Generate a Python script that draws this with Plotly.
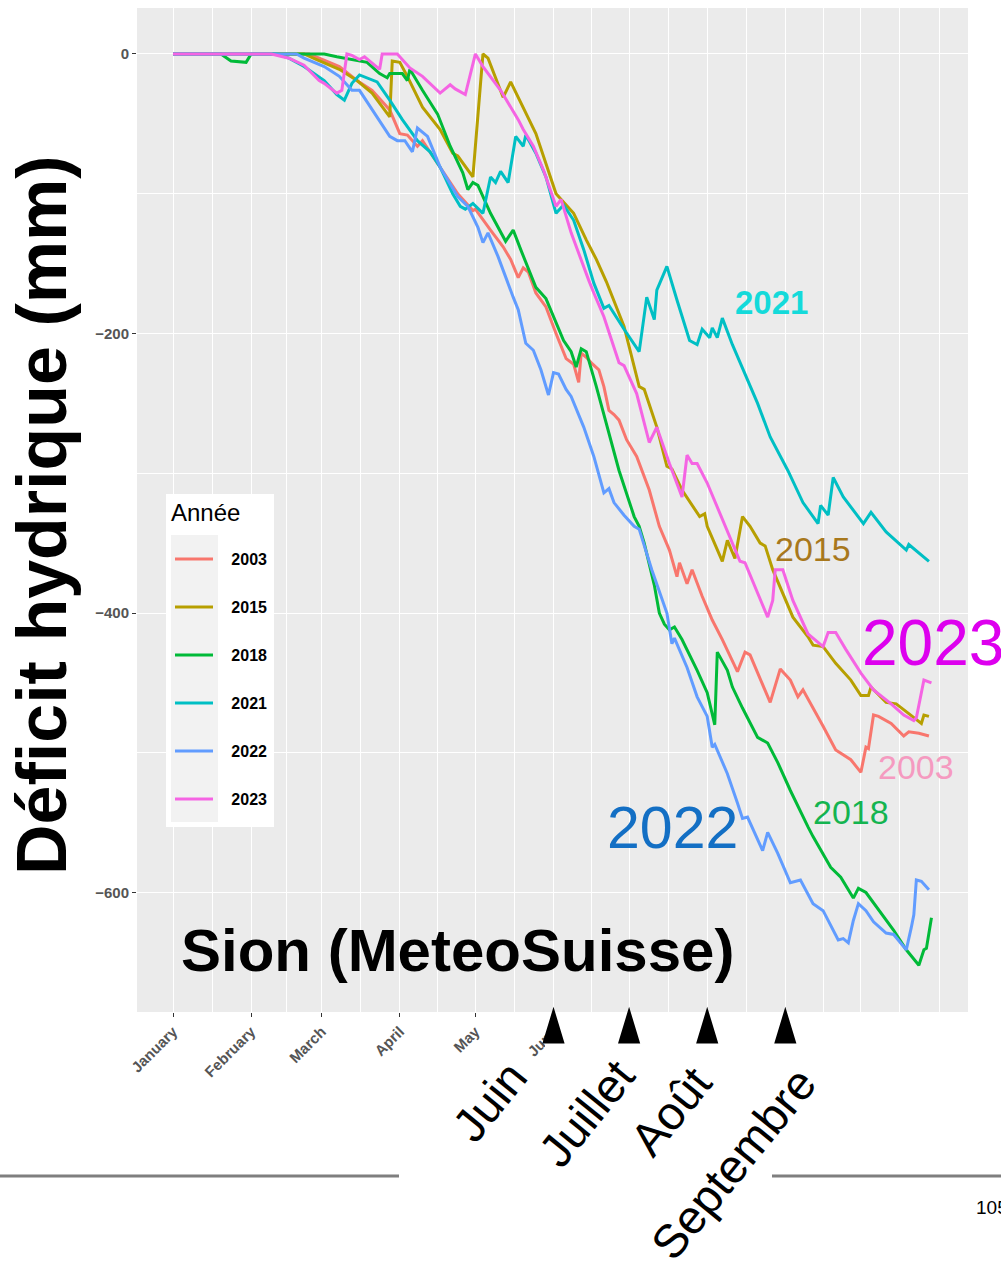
import plotly.graph_objects as go

# ---------------- data ----------------
years = ["2003", "2015", "2018", "2021", "2022", "2023"]
line_colors = ["#F8766D", "#B79F00", "#00BA38", "#00BFC4", "#619CFF", "#F564E3"]

# day of year / water deficit (mm)
day_2003 = [1, 55, 59, 67, 74, 80, 87, 91, 94, 98, 100, 107, 114, 120, 121, 127, 132, 135, 138, 140,
            142, 145, 149, 153, 157, 160, 162, 163, 165, 167, 170, 172, 174, 176, 178, 181, 185, 190, 194, 198,
            201, 202, 205, 207, 211, 215, 219, 225, 228, 230, 238, 242, 246, 249, 251, 259, 264, 270, 274, 276,
            277, 279, 281, 286, 291, 293, 297, 301]
def_2003 = [0, 0, -3, -9, -19, -26, -40, -57, -58, -66, -62, -81, -100, -112, -111, -126, -138, -147, -160, -153,
            -156, -171, -181, -200, -218, -222, -235, -214, -217, -221, -226, -238, -255, -258, -262, -276, -288, -312, -338, -355,
            -374, -364, -379, -369, -388, -405, -419, -442, -428, -430, -464, -440, -448, -460, -455, -481, -498, -505, -514, -496,
            -497, -473, -474, -479, -488, -485, -486, -488]

day_2015 = [1, 53, 58, 67, 74, 80, 87, 88, 91, 94, 100, 107, 112, 114, 120, 124, 126, 132, 135, 139,
            145, 153, 160, 165, 169, 173, 180, 186, 188, 193, 197, 199, 203, 210, 212, 213, 219, 221, 224, 227,
            230, 234, 236, 239, 243, 247, 253, 255, 259, 264, 270, 274, 277, 278, 284, 288, 293, 298, 299, 301]
def_2015 = [0, 0, -4, -11, -19, -28, -45, -5, -6, -16, -38, -54, -71, -73, -88, 0, -3, -31, -20, -35,
            -57, -100, -114, -133, -147, -163, -195, -238, -240, -267, -295, -297, -312, -331, -329, -338, -363, -348, -361, -331,
            -338, -350, -352, -369, -386, -403, -417, -423, -424, -436, -448, -459, -459, -453, -464, -465, -472, -479, -473, -474]

day_2018 = [1, 20, 24, 30, 32, 61, 66, 74, 78, 83, 86, 87, 92, 94, 95, 100, 106, 111, 116, 118,
            120, 122, 127, 133, 136, 139, 145, 149, 156, 159, 161, 163, 165, 169, 174, 178, 184, 186, 188, 192,
            194, 196, 198, 200, 203, 209, 213, 216, 217, 221, 223, 227, 233, 237, 241, 246, 253, 255, 262, 266,
            271, 273, 276, 282, 287, 292, 297, 299, 300, 302]
def_2018 = [0, 0, -5, -6, 0, 0, -2, -5, -6, -14, -17, -14, -14, -19, -11, -26, -43, -66, -85, -97,
            -92, -94, -114, -134, -126, -140, -167, -175, -205, -213, -224, -211, -213, -238, -271, -298, -331, -338, -350, -380,
            -400, -408, -412, -410, -419, -441, -457, -480, -428, -441, -453, -468, -489, -493, -507, -527, -553, -560, -582, -589,
            -604, -597, -600, -615, -627, -641, -652, -641, -640, -618]

day_2021 = [1, 42, 47, 53, 61, 66, 69, 72, 75, 82, 87, 92, 98, 103, 107, 112, 115, 117, 120, 124,
            127, 129, 131, 134, 137, 140, 141, 145, 149, 153, 156, 160, 164, 168, 172, 174, 180, 186, 189, 192,
            193, 197, 201, 206, 209, 211, 214, 215, 217, 219, 223, 226, 233, 238, 245, 251, 257, 258, 261, 263,
            267, 275, 278, 284, 292, 293, 301]
def_2021 = [0, 0, -3, -9, -19, -29, -33, -21, -15, -20, -33, -47, -62, -70, -81, -100, -109, -111, -107, -114,
            -88, -92, -84, -92, -59, -66, -58, -71, -88, -114, -108, -119, -140, -164, -182, -180, -197, -213, -174, -190,
            -169, -152, -176, -205, -208, -197, -203, -196, -203, -189, -208, -221, -250, -274, -298, -321, -336, -323, -330, -303,
            -317, -336, -328, -342, -355, -351, -363]

day_2022 = [1, 50, 53, 61, 67, 72, 75, 80, 87, 90, 93, 96, 98, 102, 107, 114, 118, 122, 124, 126,
            130, 136, 138, 141, 144, 147, 150, 152, 154, 157, 159, 164, 168, 172, 174, 176, 180, 184, 186, 191,
            197, 199, 200, 205, 209, 213, 215, 216, 221, 225, 227, 229, 235, 237, 241, 246, 250, 255, 259, 265,
            267, 269, 271, 273, 276, 279, 284, 287, 292, 294, 295, 296, 298, 301]
def_2022 = [0, 0, -3, -9, -16, -26, -26, -40, -59, -62, -62, -70, -53, -59, -81, -102, -109, -124, -135, -128,
            -145, -174, -183, -207, -212, -226, -244, -228, -229, -240, -245, -267, -288, -314, -311, -321, -330, -338, -340, -369,
            -400, -422, -418, -439, -460, -474, -496, -494, -515, -536, -547, -546, -570, -557, -572, -593, -591, -608, -613, -634,
            -633, -636, -620, -608, -613, -621, -629, -630, -641, -625, -616, -591, -592, -598]

day_2023 = [1, 40, 47, 53, 59, 61, 66, 68, 70, 72, 75, 77, 83, 84, 90, 95, 100, 107, 111, 113,
            117, 118, 121, 124, 131, 138, 140, 144, 148, 153, 155, 159, 161, 166, 168, 172, 178, 180, 185, 190,
            193, 198, 203, 205, 207, 209, 213, 217, 221, 226, 228, 237, 239, 240, 243, 247, 253, 259, 261, 264,
            268, 274, 279, 286, 291, 295, 296, 299, 302]
def_2023 = [0, 0, -3, -8, -19, -21, -28, -26, 0, -1, -4, -2, -11, 0, 0, -10, -16, -28, -22, -25,
            -29, -22, 0, -9, -26, -47, -54, -66, -83, -109, -104, -128, -138, -162, -171, -188, -221, -223, -243, -278,
            -267, -293, -317, -287, -293, -293, -307, -324, -341, -363, -364, -403, -391, -369, -369, -391, -415, -424, -414, -414,
            -426, -443, -455, -465, -473, -477, -475, -448, -450]

series_days = [day_2003, day_2015, day_2018, day_2021, day_2022, day_2023]
series_vals = [def_2003, def_2015, def_2018, def_2021, def_2022, def_2023]

# axis ticks
month_start_days = [1, 32, 60, 91, 121, 152, 182, 213, 244, 274, 305]
month_tick_labels = ["January", "February", "March", "April", "May", "June", "", "", "", "", ""]
mid_month_days = [16.5, 46, 75.5, 106, 136.5, 167, 197.5, 228.5, 259, 289.5]
y_tick_vals = [0, -200, -400, -600]
y_tick_labels = ["0", "\u2212200", "\u2212400", "\u2212600"]
y_minor_vals = [-100, -300, -500]

# French month markers added under the axis
arrow_days = [152, 182, 213, 244]
arrow_labels = ["Juin", "Juillet", "Août", "Septembre"]

# year labels written in the panel
year_label_text = ["2021", "2015", "2023", "2003", "2018", "2022"]
year_label_colors = ["#14DADA", "#A8781C", "#DD00EE", "#F59AC0", "#14B450", "#136FC4"]

# ---------------- layout geometry (page pixels) ----------------
OFF = 0                      # body margin removed by the post script below
W, H = 1001, 1270
PL, PR, PT, PB = 137, 968, 8, 1012   # plot panel in page pixels
FONT = "Liberation Sans, Arial, sans-serif"


def fx(px):
    return (px - PL) / (PR - PL)


def fy(py):
    return (PB - py) / (PB - PT)


fig = go.Figure()
for name, col, dd, vv in zip(years, line_colors, series_days, series_vals):
    fig.add_trace(go.Scatter(
        x=dd, y=vv, mode="lines", name="\u00a0\u00a0\u00a0" + name, legendgroup=name,
        line=dict(color=col, width=3), hovertemplate=name + ": %{y} mm<extra></extra>"))

shapes = []
# legend background (white box + grey key column)
shapes.append(dict(type="rect", xref="paper", yref="paper", x0=fx(166), x1=fx(274), y0=fy(494), y1=fy(827),
                   fillcolor="white", line=dict(width=0), layer="above"))
shapes.append(dict(type="rect", xref="paper", yref="paper", x0=fx(171), x1=fx(218), y0=fy(535), y1=fy(822),
                   fillcolor="#F2F2F2", line=dict(width=0), layer="above"))
# white mask trimming the June tick label (as in the slide)
shapes.append(dict(type="rect", xref="paper", yref="paper", x0=fx(545), x1=fx(1010), y0=fy(1013), y1=fy(1060),
                   fillcolor="white", line=dict(width=0), layer="above"))
# arrows pointing at month starts
for d in arrow_days:
    shapes.append(dict(type="path", xref="x", yref="paper",
                       path=f"M {d - 3.6},{fy(1042)} L {d},{fy(1012)} L {d + 3.6},{fy(1042)} Z",
                       fillcolor="black", line=dict(color="black", width=3), layer="above"))
# slide separator line
shapes.append(dict(type="line", xref="paper", yref="paper", x0=fx(0), x1=fx(399), y0=fy(1176), y1=fy(1176),
                   line=dict(color="#7F7F7F", width=3), layer="above"))
shapes.append(dict(type="line", xref="paper", yref="paper", x0=fx(772), x1=fx(1010), y0=fy(1176), y1=fy(1176),
                   line=dict(color="#7F7F7F", width=3), layer="above"))

annotations = []
# big y title
annotations.append(dict(text="<b>Déficit hydrique (mm)</b>", xref="paper", yref="paper", x=fx(42), y=fy(515),
                        xanchor="center", yanchor="middle", textangle=-90, showarrow=False,
                        font=dict(family=FONT, size=70, color="black")))
# station name
annotations.append(dict(text="<b>Sion (MeteoSuisse)</b>", xref="paper", yref="paper", x=fx(457), y=fy(950),
                        xanchor="center", yanchor="middle", showarrow=False,
                        font=dict(family=FONT, size=60, color="black")))
# legend title
annotations.append(dict(text="Année", xref="paper", yref="paper", x=fx(169), y=fy(512),
                        xanchor="left", yanchor="middle", showarrow=False,
                        font=dict(family=FONT, size=24, color="black")))
# year labels
year_label_pos = [(771, 303, 33, True), (813, 549, 34, False), (933, 643, 64, False),
                  (916, 767, 34, False), (851, 812, 34, False), (672, 828, 59, False)]
for txt, col, (px, py, sz, bold) in zip(year_label_text, year_label_colors, year_label_pos):
    annotations.append(dict(text=f"<b>{txt}</b>" if bold else txt, xref="paper", yref="paper",
                            x=fx(px), y=fy(py), xanchor="center", yanchor="middle", showarrow=False,
                            font=dict(family=FONT, size=sz, color=col)))
# French month labels
french_centers = [(489, 1101), (586, 1113), (670, 1111), (733, 1163)]
for txt, (px, py) in zip(arrow_labels, french_centers):
    annotations.append(dict(text=txt, xref="paper", yref="paper", x=fx(px), y=fy(py),
                            xanchor="center", yanchor="middle", textangle=-51, showarrow=False,
                            font=dict(family=FONT, size=47, color="black")))
# page number (cut by the right edge, as on the slide)
annotations.append(dict(text="105", xref="paper", yref="paper", x=fx(974), y=fy(1207),
                        xanchor="left", yanchor="middle", showarrow=False,
                        font=dict(family=FONT, size=19, color="black")))

fig.update_layout(
    width=W, height=H,
    margin=dict(l=PL - OFF, r=W - (PR - OFF), t=PT - OFF, b=H - (PB - OFF), autoexpand=False),
    paper_bgcolor="white", plot_bgcolor="#EBEBEB",
    font=dict(family=FONT, color="#4D4D4D"),
    showlegend=True,
    legend=dict(x=fx(170), y=fy(542), xanchor="left", yanchor="top",
                bgcolor="rgba(0,0,0,0)", borderwidth=0,
                font=dict(family=FONT, size=16, color="black", weight="bold"),
                tracegroupgap=24.2, itemwidth=38),
    xaxis=dict(range=[-13.3, 316.5], tickmode="array", tickvals=month_start_days, ticktext=month_tick_labels,
               tickangle=-45, tickfont=dict(family=FONT, size=15, color="#555555", weight="bold"),
               ticks="outside", ticklen=4, tickcolor="#333333",
               showgrid=True, gridcolor="white", gridwidth=1.2, zeroline=False, showline=False,
               minor=dict(tickmode="array", tickvals=mid_month_days, showgrid=True, gridcolor="white",
                          gridwidth=0.6, ticks="")),
    yaxis=dict(range=[-685.5, 32.9], tickmode="array", tickvals=y_tick_vals, ticktext=y_tick_labels,
               tickfont=dict(family=FONT, size=15, color="#555555", weight="bold"),
               ticks="outside", ticklen=4, tickcolor="#333333",
               showgrid=True, gridcolor="white", gridwidth=1.2, zeroline=False, showline=False,
               minor=dict(tickmode="array", tickvals=y_minor_vals, showgrid=True, gridcolor="white",
                          gridwidth=0.6, ticks="")),
    shapes=shapes,
    annotations=annotations,
)

fig.write_html("out.html", config={"displayModeBar": False},
               post_script="document.body.style.margin='0px';document.body.style.overflow='hidden';")
